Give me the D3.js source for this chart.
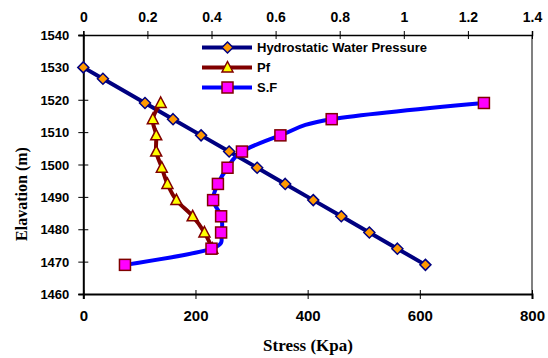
<!DOCTYPE html>
<html><head><meta charset="utf-8">
<script src="https://cdn.jsdelivr.net/npm/d3@7"></script>
<style>html,body{margin:0;padding:0;background:#fff;}svg{display:block;}</style>
</head><body>
<script>
// ---- data ----
const hydroElev = [1530, 1526.5, 1519, 1514, 1509, 1504, 1499, 1494, 1489, 1484, 1479, 1474, 1469];
const hydroStress = [0, 35, 110, 160, 210, 260, 310, 360, 410, 460, 510, 560, 610];
const pfElev = [1519, 1514, 1509, 1504, 1499, 1494, 1489, 1484, 1479, 1474];
const pfStress = [138, 124, 130, 130, 140, 150, 166, 195, 216, 230];
const sfElev = [1519, 1514, 1509, 1504, 1499, 1494, 1489, 1484, 1479, 1474, 1469];
const sfValue = [1.25, 0.775, 0.615, 0.495, 0.45, 0.42, 0.405, 0.43, 0.43, 0.40, 0.13];
const bottomTicks = [0, 200, 400, 600, 800];
const topTicks = [0, 0.2, 0.4, 0.6, 0.8, 1, 1.2, 1.4];
const leftTicks = [1460, 1470, 1480, 1490, 1500, 1510, 1520, 1530, 1540];
const seriesNames = ["Hydrostatic Water Pressure", "Pf", "S.F"];

const W = 548, H = 358;
const L = 83.3, R = 532, T = 35, B = 294;
const svg = d3.select("body").append("svg").attr("width", W).attr("height", H);

const x = d3.scaleLinear().domain([0, 800]).range([L, R]);
const x2 = d3.scaleLinear().domain([0, 1.4]).range([L, R]);
const y = d3.scaleLinear().domain([1460, 1540]).range([B, T]);

// right border
svg.append("line").attr("x1", R).attr("x2", R).attr("y1", T).attr("y2", B)
  .attr("stroke", "#808080").attr("stroke-width", 2);

const sans = "Liberation Sans, Arial, sans-serif";
const serif = "Liberation Serif, Times New Roman, serif";

// bottom axis
const gb = svg.append("g").attr("transform", `translate(0,${B})`)
  .call(d3.axisBottom(x).tickValues(bottomTicks).tickSize(5).tickPadding(11).tickFormat(d3.format("d")));
// top axis
const gt = svg.append("g").attr("transform", `translate(0,${T})`)
  .call(d3.axisTop(x2).tickValues(topTicks).tickSize(4).tickPadding(9).tickFormat(d => String(d)));
// left axis
const gl = svg.append("g").attr("transform", `translate(${L},0)`)
  .call(d3.axisLeft(y).tickValues(leftTicks).tickSize(5).tickPadding(9).tickFormat(d3.format("d")));

[gb, gt, gl].forEach(g => {
  g.select(".domain").attr("stroke", "#000").attr("stroke-width", 1.5);
  g.selectAll(".tick line").attr("stroke", "#000").attr("stroke-width", 1);
  g.selectAll("text").attr("fill", "#000").attr("font-family", sans).attr("font-weight", "bold");
});
gb.selectAll("text").attr("font-size", 15);
gt.selectAll("text").attr("font-size", 14);
gl.selectAll("text").attr("font-size", 13).attr("dy", "0.35em");
// cross ticks
gt.selectAll(".tick line").attr("y1", 4).attr("y2", -4);
gl.selectAll(".tick line").attr("x1", 5).attr("x2", -5);
gb.selectAll(".tick line").attr("y1", -4).attr("y2", 5);
gb.select(".domain").attr("stroke-width", 2);
gl.select(".domain").attr("stroke-width", 2);

// axis titles
svg.append("text").attr("x", 308).attr("y", 351).attr("text-anchor", "middle")
  .attr("font-family", serif).attr("font-weight", "bold").attr("font-size", 17).text("Stress (Kpa)");
svg.append("text").attr("transform", "translate(27,194) rotate(-90)").attr("text-anchor", "middle")
  .attr("font-family", serif).attr("font-weight", "bold").attr("font-size", 16).text("Elavation (m)");

// series
const hydro = hydroElev.map((e, i) => ({ e, v: hydroStress[i] }));
const pf = pfElev.map((e, i) => ({ e, v: pfStress[i] }));
const sf = sfElev.map((e, i) => ({ e, v: sfValue[i] }));

const smooth = d3.curveCatmullRom.alpha(0);

// Hydrostatic
svg.append("path").datum(hydro)
  .attr("d", d3.line().x(d => x(d.v)).y(d => y(d.e)))
  .attr("fill", "none").attr("stroke", "#000080").attr("stroke-width", 4).attr("stroke-linejoin", "round");
const diamond = d3.symbol().type(d3.symbolDiamond).size(60);
function diamonds(g, pts) {
  g.selectAll(null).data(pts).enter().append("path")
    .attr("d", "M0,-5.5L5.5,0L0,5.5L-5.5,0Z")
    .attr("transform", d => `translate(${d[0]},${d[1]})`)
    .attr("fill", "#FF9900").attr("stroke", "#000080").attr("stroke-width", 1.5);
}
diamonds(svg, hydro.map(d => [x(d.v), y(d.e)]));

// Pf
svg.append("path").datum(pf)
  .attr("d", d3.line().x(d => x(d.v)).y(d => y(d.e)).curve(smooth))
  .attr("fill", "none").attr("stroke", "#800000").attr("stroke-width", 4).attr("stroke-linejoin", "round");
function triangles(g, pts) {
  g.selectAll(null).data(pts).enter().append("path")
    .attr("d", "M0,-6L5.5,4.5L-5.5,4.5Z")
    .attr("transform", d => `translate(${d[0]},${d[1]})`)
    .attr("fill", "#FFFF00").attr("stroke", "#800000").attr("stroke-width", 1.5);
}
triangles(svg, pf.map(d => [x(d.v), y(d.e)]));

// S.F
svg.append("path").datum(sf)
  .attr("d", d3.line().x(d => x2(d.v)).y(d => y(d.e)).curve(smooth))
  .attr("fill", "none").attr("stroke", "#0000FF").attr("stroke-width", 4).attr("stroke-linejoin", "round");
function squares(g, pts) {
  g.selectAll(null).data(pts).enter().append("rect")
    .attr("x", d => d[0] - 5.5).attr("y", d => d[1] - 5.5).attr("width", 11).attr("height", 11)
    .attr("fill", "#FF00FF").attr("stroke", "#800000").attr("stroke-width", 1.5);
}
squares(svg, sf.map(d => [x2(d.v), y(d.e)]));

// legend
const legX1 = 202, legX2 = 252, legMx = 227.5, legTx = 257;
const legY = [47.5, 67.5, 87.5];
const legColors = ["#000080", "#800000", "#0000FF"];
seriesNames.forEach((name, i) => {
  svg.append("line").attr("x1", legX1).attr("x2", legX2).attr("y1", legY[i]).attr("y2", legY[i])
    .attr("stroke", legColors[i]).attr("stroke-width", 4);
  svg.append("text").attr("x", legTx).attr("y", legY[i] + 4.5)
    .attr("font-family", sans).attr("font-weight", "bold").attr("font-size", 13).text(name);
});
diamonds(svg, [[legMx, legY[0]]]);
triangles(svg, [[legMx, legY[1]]]);
squares(svg, [[legMx, legY[2]]]);
</script>
</body></html>
